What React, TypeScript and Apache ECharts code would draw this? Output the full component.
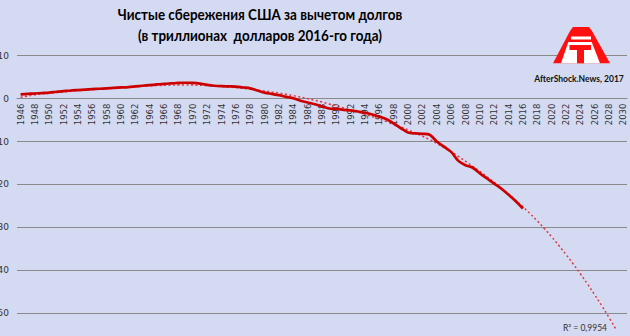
import React, { useEffect, useRef } from "react";
import * as echarts from "echarts";

const years: string[] = [];
for (let y = 1946; y <= 2030; y++) years.push(String(y));

// Net savings of the USA minus debts, trillions of 2016 dollars (1946-2016)
const netSavings: number[] = [
  1.0, 1.1, 1.2, 1.3, 1.4, 1.6, 1.75, 1.9, 2.0, 2.1,
  2.2, 2.3, 2.4, 2.5, 2.6, 2.7, 2.85, 3.0, 3.15, 3.3,
  3.45, 3.55, 3.65, 3.7, 3.65, 3.5, 3.2, 3.0, 2.9, 2.85,
  2.8, 2.6, 2.4, 1.9, 1.4, 1.1, 0.8, 0.4, 0.1, -0.5,
  -0.9, -1.3, -1.8, -2.3, -2.4, -2.6, -2.75, -3.0, -3.3, -3.7,
  -4.2, -4.8, -5.8, -6.9, -7.9, -8.1, -8.2, -8.4, -10.0, -11.2,
  -12.4, -14.5, -15.5, -16.1, -17.4, -18.6, -19.8, -21.0, -22.4, -23.9,
  -25.6,
];

// Polynomial trend line (1946-2029)
const trend: number[] = [
  0.3, 0.6, 0.9, 1.1, 1.25, 1.4, 1.55, 1.7, 1.85, 2.0,
  2.1, 2.25, 2.35, 2.5, 2.6, 2.7, 2.8, 2.9, 3.0, 3.05,
  3.1, 3.15, 3.2, 3.2, 3.15, 3.1, 3.05, 2.95, 2.85, 2.7,
  2.55, 2.4, 2.2, 2.0, 1.8, 1.55, 1.3, 1.0, 0.7, 0.35,
  0.0, -0.4, -0.8, -1.25, -1.7, -2.15, -2.65, -3.15, -3.65, -4.2,
  -4.75, -5.35, -5.95, -6.6, -7.3, -8.0, -8.75, -9.55, -10.45, -11.4,
  -12.4, -13.45, -14.6, -15.75, -16.95, -18.2, -19.5, -20.85, -22.25, -23.7,
  -25.2, -26.8, -28.5, -30.3, -32.2, -34.2, -36.3, -38.5, -40.8, -43.2,
  -45.7, -48.3, -51.0, -53.8,
];

const titleLines = [
  "Чистые сбережения США за вычетом долгов",
  "(в триллионах  долларов 2016-го года)",
];
const sourceText = "AfterShock.News, 2017";
const r2Text = "R² = 0,9954";
const yMin = -60;
const yMax = 10;
const yStep = 10;

const OFF = 20; // chart is shifted left so the minus signs are cut off like in the reference
const GRID_TOP = 55.7;
const GRID_BOTTOM_Y = 356.2; // y of yMin inside the chart div
const ZERO_Y = GRID_TOP + ((GRID_BOTTOM_Y - GRID_TOP) * yMax) / (yMax - yMin);

export default function App() {
  const ref = useRef<HTMLDivElement>(null);
  useEffect(() => {
    if (!ref.current) return;
    const chart = echarts.init(ref.current, undefined, { renderer: "svg" });
    const X = (x: number) => x + OFF;
    const titleFont = "bold 16px Lato";
    chart.setOption({
      animation: false,
      backgroundColor: "#d4daf2",
      grid: { left: 37, right: 3, top: GRID_TOP, bottom: 380 - GRID_BOTTOM_Y },
      xAxis: {
        type: "category",
        data: years,
        boundaryGap: true,
        offset: -(GRID_BOTTOM_Y - ZERO_Y),
        axisLine: { onZero: false, lineStyle: { color: "#8a8a8a", width: 1 } },
        axisTick: { show: false },
        axisLabel: {
          interval: 1,
          rotate: 90,
          fontSize: 8.5,
          fontFamily: "DejaVu Sans",
          color: "#333",
          margin: 5,
        },
        splitLine: { show: false },
      },
      yAxis: {
        type: "value",
        min: yMin,
        max: yMax,
        interval: yStep,
        axisLine: { show: false },
        axisTick: { show: false },
        axisLabel: { fontSize: 9, fontFamily: "DejaVu Sans", color: "#333", margin: 8 },
        splitLine: { lineStyle: { color: "#8a8a8a", width: 1 } },
      },
      series: [
        {
          type: "line",
          data: trend,
          showSymbol: false,
          smooth: true,
          lineStyle: { color: "#e0373a", width: 1.5, type: [2, 2.5] },
          z: 3,
        },
        {
          type: "line",
          data: netSavings,
          showSymbol: false,
          smooth: 0.3,
          lineStyle: { color: "#cc0000", width: 2.7 },
          z: 4,
        },
      ],
      graphic: [
        {
          type: "text",
          x: X(260),
          y: 13.5,
          scaleX: 0.84,
          style: {
            text: titleLines[0],
            x: 0,
            y: 0,
            align: "center",
            verticalAlign: "middle",
            font: titleFont,
            fill: "#000",
          },
        },
        {
          type: "text",
          x: X(260),
          y: 35,
          scaleX: 0.84,
          style: {
            text: titleLines[1],
            x: 0,
            y: 0,
            align: "center",
            verticalAlign: "middle",
            font: titleFont,
            fill: "#000",
          },
        },
        {
          type: "polygon",
          shape: {
            points: [
              [X(573), 27], [X(589), 27], [X(592), 31], [X(610), 63.3],
              [X(553), 63.3], [X(570), 31],
            ],
          },
          style: { fill: "#ff1010" },
          z: 10,
        },
        {
          type: "rect",
          shape: { x: X(571), y: 36.5, width: 20, height: 3 },
          style: { fill: "#ffffff" },
          z: 11,
        },
        {
          type: "polygon",
          shape: {
            points: [[X(568.3), 42], [X(591.7), 42], [X(600), 63.3], [X(561), 63.3]],
          },
          style: { fill: "#ffffff" },
          z: 11,
        },
        {
          type: "rect",
          shape: { x: X(569.5), y: 45, width: 21.5, height: 5 },
          style: { fill: "#ff1010" },
          z: 12,
        },
        {
          type: "rect",
          shape: { x: X(577), y: 50, width: 7, height: 13.3 },
          style: { fill: "#ff1010" },
          z: 12,
        },
        {
          type: "text",
          style: {
            text: sourceText,
            x: X(579),
            y: 79,
            align: "center",
            verticalAlign: "middle",
            font: "bold 8.5px Lato",
            fill: "#111",
          },
          z: 12,
        },
        {
          type: "text",
          style: {
            text: r2Text,
            x: X(585),
            y: 327.5,
            align: "center",
            verticalAlign: "middle",
            font: "8.5px Lato",
            fill: "#333",
          },
          z: 12,
        },
      ],
    });
    return () => chart.dispose();
  }, []);
  return (
    <div
      style={{
        position: "fixed",
        left: 0,
        top: 0,
        width: 630,
        height: 336,
        overflow: "hidden",
        background: "#d4daf2",
      }}
    >
      <div
        ref={ref}
        style={{ position: "absolute", left: -OFF, top: 0, width: 650, height: 380 }}
      />
    </div>
  );
}
